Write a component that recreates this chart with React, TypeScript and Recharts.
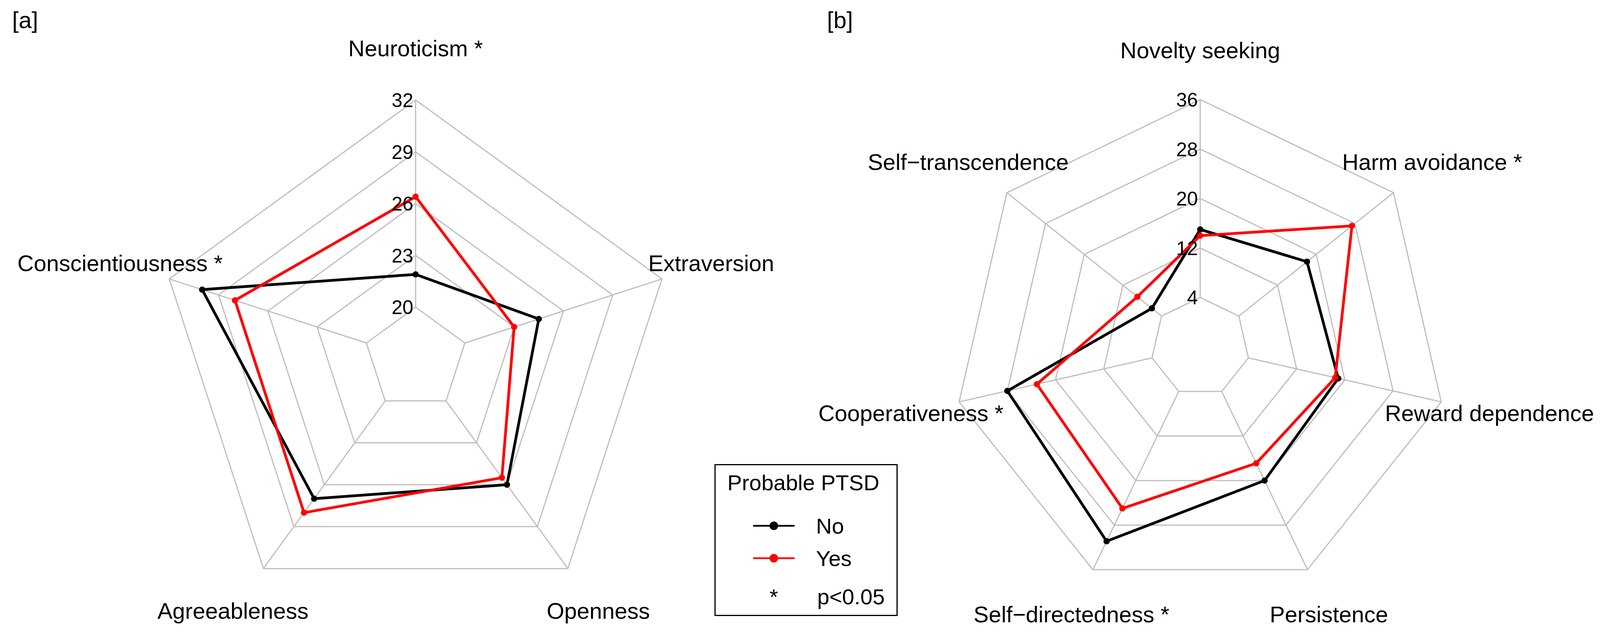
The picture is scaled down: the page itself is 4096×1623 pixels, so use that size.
import React from 'react';
import { RadarChart, PolarGrid, PolarAngleAxis, PolarRadiusAxis, Radar } from 'recharts';

// [a] Big Five traits
const traitsA = ['Neuroticism *', 'Extraversion', 'Openness', 'Agreeableness', 'Conscientiousness *'];
const noA = [21.9, 24.5, 26.0, 27.0, 30.0];
const yesA = [26.4, 23.0, 25.5, 28.0, 28.0];
const ticksA = [20, 23, 26, 29, 32];

// [b] TCI dimensions
const traitsB = [
  'Novelty seeking',
  'Harm avoidance *',
  'Reward dependence',
  'Persistence',
  'Self\u2212directedness *',
  'Cooperativeness *',
  'Self\u2212transcendence',
];
const noB = [15.0, 18.1, 18.9, 20.0, 30.9, 28.0, 6.0];
const yesB = [14.0, 27.4, 18.4, 16.9, 25.0, 23.1, 9.0];
const ticksB = [4, 12, 20, 28, 36];

const groups = ['No', 'Yes'];
const groupColors = ['#000000', '#FF0000'];

const FONT = '"Liberation Sans", Arial, Helvetica, sans-serif';
const LABEL_SIZE = 58;
const TICK_SIZE = 50;
const GRID = '#BEBEBE';

const dataA = traitsA.map((trait, i) => ({ trait, no: noA[i], yes: yesA[i] }));
const dataB = traitsB.map((trait, i) => ({ trait, no: noB[i], yes: yesB[i] }));

// labels sit at 1.2 x outer radius, centred on the spoke
const makeAngleTick = (cx: number, cy: number, r: number) => (props: any) => {
  const a = (props.payload.coordinate * Math.PI) / 180;
  const x = cx + 1.2 * r * Math.cos(a);
  const y = cy - 1.2 * r * Math.sin(a);
  return (
    <text x={x} y={y} dy={LABEL_SIZE * 0.36} textAnchor="middle" fontSize={LABEL_SIZE} fontFamily={FONT} fill="#000">
      {props.payload.value}
    </text>
  );
};

const radiusTick = (props: any) => (
  <text x={props.x - 6} y={props.y} dy={TICK_SIZE * 0.36} textAnchor="end" fontSize={TICK_SIZE} fontFamily={FONT} fill="#000">
    {props.payload.value}
  </text>
);

const makeDot = (color: string) => (p: any) =>
  <circle key={`d-${p.index}`} cx={p.cx} cy={p.cy} r={8} fill={color} stroke="none" />;

function Panel({ data, ticks, cx, cy, r }: { data: any[]; ticks: number[]; cx: number; cy: number; r: number }) {
  return (
    <RadarChart
      width={2048}
      height={1623}
      data={data}
      cx={cx}
      cy={cy}
      innerRadius={r * 0.2}
      outerRadius={r}
      margin={{ top: 0, right: 0, bottom: 0, left: 0 }}
      style={{ overflow: 'visible' }}
    >
      <PolarGrid gridType="polygon" stroke={GRID} strokeWidth={3} />
      <PolarAngleAxis dataKey="trait" tick={makeAngleTick(cx, cy, r)} tickLine={false} axisLine={false} />
      <PolarRadiusAxis
        angle={90}
        domain={[ticks[0], ticks[ticks.length - 1]]}
        ticks={ticks as any}
        tickCount={ticks.length}
        allowDataOverflow
        axisLine={false}
        tick={radiusTick}
      />
      {['no', 'yes'].map((k, i) => (
        <Radar
          key={k}
          name={groups[i]}
          dataKey={k}
          stroke={groupColors[i]}
          strokeWidth={7}
          fill="none"
          fillOpacity={0}
          dot={makeDot(groupColors[i])}
          isAnimationActive={false}
        />
      ))}
    </RadarChart>
  );
}

function LegendBox() {
  return (
    <div
      style={{
        position: 'absolute',
        left: 1829,
        top: 1188,
        width: 469,
        height: 389,
        boxSizing: 'border-box',
        border: '3.5px solid #000',
        background: '#fff',
      }}
    >
      <svg width={469} height={389} style={{ position: 'absolute', left: -3.5, top: -3.5 }}>
        <text x={33} y={67} fontSize={56} fontFamily={FONT} fill="#000">Probable PTSD</text>
        {groups.map((g, i) => {
          const y = 158 + i * 83;
          return (
            <g key={g}>
              <line x1={99} x2={205} y1={y} y2={y} stroke={groupColors[i]} strokeWidth={4.5} />
              <circle cx={152} cy={y} r={11} fill={groupColors[i]} />
              <text x={260} y={y} dy={20} fontSize={56} fontFamily={FONT} fill="#000">{g}</text>
            </g>
          );
        })}
        <text x={152} y={359} textAnchor="middle" fontSize={56} fontFamily={FONT} fill="#000">*</text>
        <text x={263} y={359} fontSize={56} fontFamily={FONT} fill="#000">p&lt;0.05</text>
      </svg>
    </div>
  );
}

export default function App() {
  return (
    <div style={{ position: 'absolute', left: 0, top: 0, width: 4096, height: 1623, background: '#fff', overflow: 'hidden' }}>
      <div style={{ position: 'absolute', left: 0, top: 0 }}>
        <Panel data={dataA} ticks={ticksA} cx={1064} cy={919} r={663} />
      </div>
      <div style={{ position: 'absolute', left: 2048, top: 0 }}>
        <Panel data={dataB} ticks={ticksB} cx={1024.5} cy={888} r={633} />
      </div>
      <svg width={4096} height={120} style={{ position: 'absolute', left: 0, top: 0, pointerEvents: 'none' }}>
        <text x={31} y={72} fontSize={60} fontFamily={FONT} fill="#000">[a]</text>
        <text x={2117} y={72} fontSize={60} fontFamily={FONT} fill="#000">[b]</text>
      </svg>
      <LegendBox />
    </div>
  );
}
